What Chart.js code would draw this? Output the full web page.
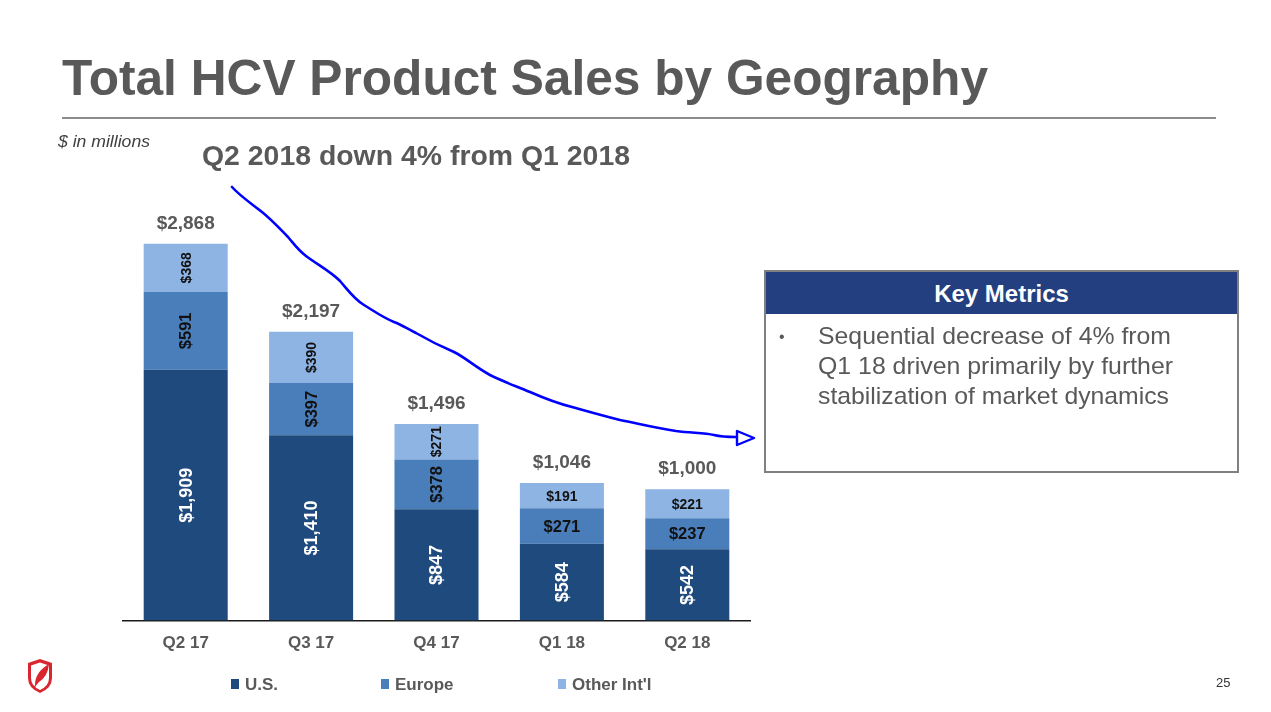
<!DOCTYPE html>
<html>
<head>
<meta charset="utf-8">
<script src="https://cdn.jsdelivr.net/npm/chart.js@4.4.1/dist/chart.umd.min.js"></script>
<style>
  html, body { margin: 0; padding: 0; background: #fff; }
  body { width: 1271px; height: 712px; position: relative; overflow: hidden; font-family: "Liberation Sans", Arial, sans-serif; }
  .abs { position: absolute; white-space: nowrap; line-height: 1; }
  #chartWrap { position: absolute; left: 0; top: 0; width: 1271px; height: 712px; }
  #title { left: 62px; top: 53px; font-size: 50px; font-weight: bold; color: #595959; }
  #rule { position: absolute; left: 62px; top: 117px; width: 1154px; height: 2px; background: #8c8c8c; }
  #units { left: 58px; top: 134px; font-size: 16px; font-style: italic; color: #404040; }
  #subtitle { left: 202px; top: 142px; font-size: 28px; font-weight: bold; color: #595959; }
  #box { position: absolute; left: 764px; top: 270px; width: 471px; height: 199px; border: 2px solid #808080; }
  #boxHead { position: absolute; left: 0; top: 0; width: 471px; height: 42px; background: #243f80; }
  #boxHead span { position: absolute; left: 0; width: 471px; top: 10px; text-align: center; font-size: 24px; font-weight: bold; color: #fff; line-height: 1; }
  .line { left: 818px; font-size: 24px; color: #595959; }
  #bullet { left: 779px; top: 329px; font-size: 16px; color: #595959; }
  #legend .item { position: absolute; top: 676px; font-size: 17px; font-weight: bold; color: #595959; line-height: 1; white-space: nowrap; }
  #legend .sw { display: inline-block; width: 8px; height: 10px; margin-right: 6px; vertical-align: 1px; }
  #page { left: 1216px; top: 676px; font-size: 13px; color: #333; }
</style>
</head>
<body>
<div id="chartWrap"><canvas id="salesChart"></canvas></div>

<div id="title" class="abs">Total HCV Product Sales by Geography</div>
<div id="rule"></div>
<div id="units" class="abs">$ in millions</div>
<div id="subtitle" class="abs">Q2 2018 down 4% from Q1 2018</div>

<div id="box"><div id="boxHead"><span>Key Metrics</span></div></div>
<div id="bullet" class="abs">&#8226;</div>
<div id="line1" class="abs line" style="top:324px">Sequential decrease of 4% from</div>
<div id="line2" class="abs line" style="top:354px">Q1 18 driven primarily by further</div>
<div id="line3" class="abs line" style="top:384px">stabilization of market dynamics</div>

<div id="legend"></div>
<div id="page" class="abs">25</div>

<!-- hand drawn arrow annotation -->
<svg style="position:absolute;left:0;top:0" width="1271" height="712">
  <path d="M232 187 C240 196 252 204 262 212 C272 220 280 229 288 237 C294 244 298 250 306 256 C318 265 330 271 340 281 C348 290 354 299 364 305 C374 311 382 317 394 322 C402 325 406 328 416 333 C428 340 440 346 454 352 C466 358 474 366 490 375 C504 382 516 386 530 392 C546 399 556 403 572 407 C590 412 604 416 620 420 C640 424 656 428 676 431 C692 433 704 433 714 435 C722 437 728 437 736 437"
        fill="none" stroke="#0000ff" stroke-width="2.6" stroke-linecap="round" stroke-linejoin="round"/>
  <path d="M737 431 L737 445 L754 438 Z" fill="none" stroke="#0000ff" stroke-width="2.4" stroke-linejoin="round"/>
</svg>

<!-- logo -->
<svg style="position:absolute;left:26px;top:658px" width="28" height="36" viewBox="0 0 28 36">
  <path d="M2 5 L14 1 L26 5 L26 20 Q26 30 14 35 Q2 30 2 20 Z" fill="#d9262e"/>
  <path d="M5 7.5 L14 4.5 L23 7.5 L23 20 Q23 28 14 32 Q5 28 5 20 Z" fill="#fff"/>
  <path d="M9 27 Q9 14 23 6 Q22 18 13 24 Q11 26 9 27 Z" fill="#d9262e"/>
  <path d="M8 30 Q10 26 12 24" stroke="#d9262e" stroke-width="1.2" fill="none"/>
</svg>

<script>
// $ in millions
const quarters = ['Q2 17', 'Q3 17', 'Q4 17', 'Q1 18', 'Q2 18'];
const usSales = [1909, 1410, 847, 584, 542];
const europeSales = [591, 397, 378, 271, 237];
const otherSales = [368, 390, 271, 191, 221];
const totalSales = [2868, 2197, 1496, 1046, 1000];

const seriesNames = ['U.S.', 'Europe', "Other Int'l"];
const seriesColors = ['#1f4a7e', '#4a7ebb', '#8eb4e3'];

// label styling per series, and whether the small upper segments get rotated text
const labelColors = ['#ffffff', '#111111', '#111111'];
const labelSizes = [18, 16.5, 14];
const rotateUpper = [true, true, true, false, false];

function money(v) {
    return '$' + v.toLocaleString('en-US');
}

const barLabels = {
    id: 'barLabels',
    afterDatasetsDraw(chart) {
        const ctx = chart.ctx;
        ctx.save();
        ctx.textAlign = 'center';
        ctx.textBaseline = 'middle';
        chart.data.datasets.forEach((ds, di) => {
            const meta = chart.getDatasetMeta(di);
            meta.data.forEach((bar, i) => {
                const cy = (bar.y + bar.base) / 2;
                ctx.save();
                ctx.translate(bar.x, cy);
                if (di === 0 || rotateUpper[i]) ctx.rotate(-Math.PI / 2);
                ctx.fillStyle = labelColors[di];
                ctx.font = 'bold ' + labelSizes[di] + 'px "Liberation Sans", Arial, sans-serif';
                ctx.fillText(money(ds.data[i]), 0, 1);
                ctx.restore();
            });
        });

        // totals above each stack
        const y = chart.scales.y;
        const lastMeta = chart.getDatasetMeta(chart.data.datasets.length - 1);
        ctx.fillStyle = '#595959';
        ctx.font = 'bold 19px "Liberation Sans", Arial, sans-serif';
        totalSales.forEach((t, i) => {
            ctx.fillText(money(t), lastMeta.data[i].x, y.getPixelForValue(t) - 20);
        });
        ctx.restore();
    }
};

const salesCtx = document.getElementById('salesChart').getContext('2d');
const salesChart = new Chart(salesCtx, {
    type: 'bar',
    data: {
        labels: quarters,
        datasets: [
            { label: seriesNames[0], data: usSales, backgroundColor: seriesColors[0] },
            { label: seriesNames[1], data: europeSales, backgroundColor: seriesColors[1] },
            { label: seriesNames[2], data: otherSales, backgroundColor: seriesColors[2] }
        ]
    },
    options: {
        responsive: true,
        maintainAspectRatio: false,
        animation: false,
        layout: {
            padding: { left: 123, right: 521, top: 200, bottom: 45 }
        },
        datasets: {
            bar: { categoryPercentage: 1, barPercentage: 0.67, borderWidth: 0 }
        },
        plugins: {
            legend: { display: false },
            tooltip: { enabled: false }
        },
        scales: {
            x: {
                stacked: true,
                grid: { display: false, drawTicks: false },
                border: { display: true, color: '#1a1a1a', width: 1.5 },
                ticks: {
                    color: '#595959',
                    padding: 13,
                    font: { family: '"Liberation Sans", Arial, sans-serif', size: 17, weight: 'bold' }
                }
            },
            y: {
                stacked: true,
                display: false,
                min: 0,
                max: 3200
            }
        }
    },
    plugins: [barLabels]
});

// legend built from the chart's datasets
const legendLeft = [231, 381, 558];
const legendEl = document.getElementById('legend');
salesChart.data.datasets.forEach((ds, i) => {
    const item = document.createElement('div');
    item.className = 'item';
    item.style.left = legendLeft[i] + 'px';
    item.innerHTML = '<span class="sw" style="background:' + ds.backgroundColor + '"></span>' + ds.label;
    legendEl.appendChild(item);
});

// squeeze text blocks to the widths seen in the slide
function fitWidth(id, w) {
    const el = document.getElementById(id);
    el.style.transformOrigin = 'left top';
    const cur = el.getBoundingClientRect().width;
    el.style.transform = 'scaleX(' + (w / cur) + ')';
}
fitWidth('title', 926);
fitWidth('subtitle', 428);
fitWidth('units', 92);
fitWidth('line1', 353);
fitWidth('line2', 355);
fitWidth('line3', 351);
</script>
</body>
</html>
